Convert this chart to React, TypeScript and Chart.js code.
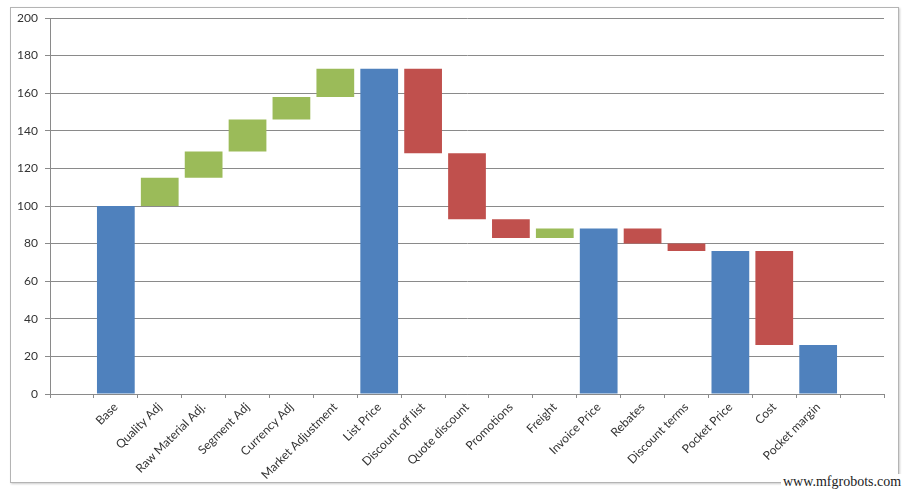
import React, { useEffect, useRef } from 'react';
import { Chart, registerables } from 'chart.js';

Chart.register(...registerables);

// empty first/last slots give the padding Excel leaves on both sides
const categories = [
  '', 'Base', 'Quality Adj', 'Raw Material Adj.', 'Segment Adj', 'Currency Adj',
  'Market Adjustment', 'List Price', 'Discount off list', 'Quote discount',
  'Promotions', 'Freight', 'Invoice Price', 'Rebates', 'Discount terms',
  'Pocket Price', 'Cost', 'Pocket margin', '',
];
const barLows = [null, 0, 100, 115, 129, 146, 158, 0, 128, 93, 83, 83, 0, 80, 76, 0, 26, 0, null];
const barHighs = [null, 100, 115, 129, 146, 158, 173, 173, 173, 128, 93, 88, 88, 88, 80, 76, 76, 26, null];
const barKinds = ['', 'total', 'up', 'up', 'up', 'up', 'up', 'total', 'down', 'down', 'down', 'up', 'total', 'down', 'down', 'total', 'down', 'total', ''];
const yTicks = [0, 20, 40, 60, 80, 100, 120, 140, 160, 180, 200];

const kindColors: Record<string, string> = {
  total: '#4F81BD',
  up: '#9BBB59',
  down: '#C0504D',
  '': 'rgba(0,0,0,0)',
};

const App: React.FC = () => {
  const canvasRef = useRef<HTMLCanvasElement>(null);
  const chartRef = useRef<Chart | null>(null);

  useEffect(() => {
    if (!canvasRef.current) return;
    if (chartRef.current) chartRef.current.destroy();

    const data = barLows.map((lo, i) => (lo === null ? null : [lo, barHighs[i] as number]));

    chartRef.current = new Chart(canvasRef.current, {
      type: 'bar',
      data: {
        labels: categories,
        datasets: [{
          data: data as any,
          backgroundColor: barKinds.map(k => kindColors[k]),
          borderWidth: 0,
          barPercentage: 0.86,
          categoryPercentage: 1,
        }],
      },
      options: {
        animation: false,
        responsive: false,
        layout: { padding: { top: 10, right: 14, left: 0, bottom: 0 } },
        plugins: { legend: { display: false }, tooltip: { enabled: false } },
        scales: {
          x: {
            offset: true,
            grid: {
              offset: true,
              drawOnChartArea: false,
              drawTicks: true,
              tickLength: 4,
              color: '#8a8a8a',
            },
            border: { color: '#8a8a8a' },
            ticks: {
              autoSkip: false,
              maxRotation: 45,
              minRotation: 45,
              padding: 2,
              color: '#333',
              font: { family: 'Lato', size: 12 },
            },
            afterFit: (scale: any) => {
              scale.height = 88;
              scale.paddingLeft = 0;
              scale.paddingRight = 0;
            },
          },
          y: {
            min: 0,
            max: 200,
            afterBuildTicks: (scale: any) => { scale.ticks = yTicks.map(v => ({ value: v })); },
            grid: { color: '#8a8a8a', tickLength: 5 },
            border: { color: '#8a8a8a' },
            ticks: {
              padding: 7,
              color: '#333',
              font: { family: 'Lato', size: 12 },
            },
            afterFit: (scale: any) => {
              scale.width = 39;
              scale.paddingTop = 0;
              scale.paddingBottom = 0;
            },
          },
        },
      },
    });

    return () => {
      if (chartRef.current) {
        chartRef.current.destroy();
        chartRef.current = null;
      }
    };
  }, []);

  return (
    <div style={{ position: 'absolute', left: 0, top: 0, width: 911, height: 494, background: '#fff' }}>
      <div style={{
        position: 'absolute', left: 10, top: 7, width: 887, height: 474,
        border: '1px solid #b4b4b4', boxShadow: '1px 1px 2px #ccc',
      }}>
        <canvas ref={canvasRef} width={887} height={474} />
      </div>
      <div style={{
        position: 'absolute', left: 781, top: 474, background: '#fff', padding: '0 2px',
        fontFamily: '"Liberation Serif", serif', fontSize: 14, color: '#222', whiteSpace: 'nowrap',
      }}>
        www.mfgrobots.com
      </div>
    </div>
  );
};

export default App;
